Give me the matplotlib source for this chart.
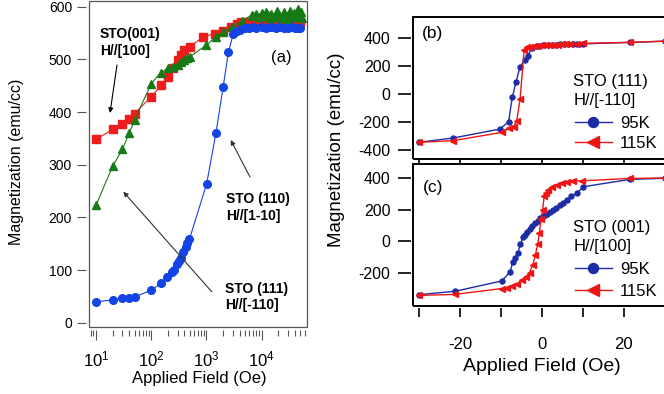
import matplotlib
matplotlib.use("Agg")
import matplotlib.pyplot as plt
from matplotlib.patches import Rectangle

plt.rcParams['font.family'] = ['Liberation Sans', 'DejaVu Sans']
plt.rcParams['axes.unicode_minus'] = False

# ---- panel (a): M vs field, log scale ----
blue_a_x = [10, 20, 30, 40, 50, 100, 150, 195, 235, 255, 290, 320, 340, 380, 420, 450, 490,
            1010, 1490, 2000, 2500, 3070, 3500, 4000, 5000, 6000, 7000, 8000, 10000, 12000,
            15000, 18000, 21000, 25000, 30000, 35000, 40000, 45000, 50000]
blue_a_y = [40, 43, 46, 47.5, 49, 61.5, 75, 86, 97, 100, 111, 117, 122, 135, 144, 151, 158,
            264, 361, 447, 514, 549, 553, 556, 559, 560, 561, 560, 561, 560,
            561, 560, 561, 560, 560, 561, 560, 559, 560]

red_a_x = [10, 20, 30, 40, 50, 100, 150, 200, 250, 300, 350, 400, 500, 880, 1430, 2000,
           2800, 3500, 4300, 5500, 7000, 9000, 12000, 15000, 20000, 25000, 30000, 40000, 50000]
red_a_y = [348, 367, 377, 387, 397, 429, 451, 466, 483, 499, 508, 518, 524, 543, 549, 554,
           562, 567, 570, 571, 572, 571, 572, 570, 571, 572, 570, 571, 570]

green_a_x = [10, 20, 30, 40, 50, 100, 150, 200, 250, 300, 350, 400, 450, 500, 1000, 1480,
             2000, 2870, 4340, 6590, 7000, 8000, 9000, 10000, 11000, 12000, 13000, 14000,
             15000, 17000, 19000, 21000, 23000, 25000, 27000, 30000, 33000, 36000, 39000,
             42000, 45000, 48000, 51000, 54000]
green_a_y = [223, 297, 329, 360, 385, 454, 475, 483, 486, 490, 495, 499, 502, 505, 527, 543,
             552, 562, 573, 584, 583, 586, 580, 588, 582, 590, 584, 578,
             587, 581, 591, 585, 579, 589, 583, 577, 592, 584, 588,
             580, 595, 583, 590, 578]

# ---- panel (b): STO (111) loops ----
b95_x = [-30, -21.6, -10.2, -8.1, -7.2, -6.3, -5.3, -4.1, -3.4, -2.4, -1, 0.4, 1.5, 2.5,
         3.5, 4.5, 5.5, 6.5, 7.5, 8.5, 10, 21.5, 30]
b95_y = [-345, -314, -250, -197, -23, 85, 197, 245, 276, 331, 345, 350, 352, 354,
         355, 356, 357, 358, 358, 359, 360, 371, 379]
b115_x = [-30, -21.6, -9.8, -8, -6.9, -6.1, -5.3, -4.3, -3.7, -3, -2, -1, 0, 1, 2, 3, 4,
          5, 6, 7, 8.5, 10.1, 21.5, 30]
b115_y = [-345, -333, -274, -245, -236, -190, -34, 317, 335, 340, 345, 348, 350, 352, 353,
          354, 355, 356, 357, 358, 359, 364, 371, 380]

# ---- panel (c): STO (001) loops ----
c95_x = [-30, -21.1, -9.8, -7.7, -7.1, -6.5, -5.9, -5.2, -4.6, -4.1, -3.5, -3.0, -2.3, -1.6,
         -1.0, -0.4, 0.2, 0.8, 1.2, 2.0, 2.8, 3.5, 4.5, 5.2, 6.1, 7.2, 8.5, 10.1, 21.5, 30]
c95_y = [-340, -318, -253, -195, -132, -105, -75, -20, 27, 40, 60, 75, 95, 113,
         130, 145, 158, 165, 172, 185, 197, 210, 229, 245, 261, 285, 304, 346, 393, 400]
c115_x = [-30, -21.1, -9.8, -8.5, -7.3, -6.1, -4.9, -3.8, -3.0, -2.2, -1.6, -1.0, -0.6,
          -0.2, 0.2, 0.6, 1.0, 1.6, 2.5, 3.7, 5, 6.1, 7.7, 9.8, 21.5, 30]
c115_y = [-345, -338, -301, -295, -287, -274, -248, -230, -200, -150, -90, -20, 50,
          140, 200, 290, 305, 325, 342, 357, 370, 378, 384, 384, 399, 402]

W, H = 664, 394
fig = plt.figure(figsize=(W / 100, H / 100), dpi=100)


def box(l, t, r, b):
    # pixel frame -> figure fraction
    return [l / W, 1 - b / H, (r - l) / W, (b - t) / H]


def frame(ax, lw, color):
    for s in ax.spines.values():
        s.set_visible(False)
    ax.add_patch(Rectangle((0, 0), 1, 1, transform=ax.transAxes, fill=False,
                           lw=lw, ec=color, clip_on=False, zorder=5))


# panel (a)
axa = fig.add_axes(box(89, 1, 306.7, 326.7))
axa.plot(green_a_x, green_a_y, '-^', color='#167a16', ms=6, lw=0.8, mec='#167a16')
axa.plot(red_a_x, red_a_y, '-s', color='#ee1c1c', ms=5.5, lw=0.8, zorder=1)
axa.plot(blue_a_x, blue_a_y, '-o', color='#1443e6', ms=5.5, lw=0.8)
axa.set_xscale('log')
axa.set_xlim(7.47, 65300)
axa.set_ylim(-7.6, 610.8)
axa.set_yticks(range(0, 601, 100))
frame(axa, 0.9, '#555555')
axa.spines['left'].set_position(('outward', 2.2))
axa.spines['bottom'].set_position(('outward', 2.2))
axa.tick_params(axis='y', length=6.5, width=0.8, color='#555555', labelsize=10, pad=3.5)
axa.tick_params(axis='x', which='major', length=7, width=0.8, color='#555555',
                labelsize=12, pad=7)
axa.tick_params(axis='x', which='minor', length=4, width=0.8, color='#555555')

bold = dict(fontsize=10, fontweight='bold', linespacing=1.25, transform=axa.transAxes,
            va='center', ha='left')
axa.text(0.0505, 0.8726, 'STO(001)\nH//[100]', **bold)
axa.text(0.629, 0.366, 'STO (110)\nH//[1-10]', **bold)
axa.text(0.625, 0.0912, 'STO (111)\nH//[-110]', **bold)
axa.text(0.884, 0.825, '(a)', fontsize=12, transform=axa.transAxes, ha='center', va='center')
arrow = dict(arrowstyle='-|>', lw=0.8, mutation_scale=7, shrinkA=0, shrinkB=0)
axa.annotate('', xy=(0.0965, 0.6561), xytext=(0.1286, 0.8035), xycoords='axes fraction',
             arrowprops=dict(color='black', **arrow))
axa.annotate('', xy=(0.651, 0.5732), xytext=(0.7395, 0.4596), xycoords='axes fraction',
             arrowprops=dict(color='#333333', **arrow))
axa.annotate('', xy=(0.1576, 0.4145), xytext=(0.5636, 0.1075), xycoords='axes fraction',
             arrowprops=dict(color='#333333', **arrow))
fig.text(0.0256, 0.589, 'Magnetization (emu/cc)', rotation=90, fontsize=11.5,
         ha='center', va='center')
fig.text(0.2997, 0.0406, 'Applied Field (Oe)', fontsize=12, ha='center', va='center')

# panels (b) and (c)
navy = '#1c2ca6'
red = '#f01414'
axb = fig.add_axes(box(412.7, 17.3, 670.9, 159))
axc = fig.add_axes(box(412.7, 164, 670.9, 306))
panels = [
    (axb, (b95_x, b95_y, b115_x, b115_y), (-464.5, 550.5), [-400, -200, 0, 200, 400],
     'STO (111)\nH//[-110]', '(b)', 91, 116, 0.3, 0.889),
    (axc, (c95_x, c95_y, c115_x, c115_y), (-412, 490.8), [-200, 0, 200, 400],
     'STO (001)\nH//[100]', '(c)', 237, 261.5, 0.42, 0.838),
]
for ax, (x95, y95, x115, y115), ylim, yt, title, tag, ty, ly, lsp, tagy in panels:
    ax.plot(x95, y95, '-o', color=navy, ms=3.6, lw=1.0, label='95K')
    ax.plot(x115, y115, '-<', color=red, ms=4.4, lw=1.0, label='115K')
    ax.set_xlim(-31.5, 31.5)
    ax.set_ylim(*ylim)
    ax.set_yticks(yt)
    ax.set_xticks(range(-30, 31, 10))
    frame(ax, 1.4, 'black')
    ax.spines['left'].set_position(('outward', 1.5))
    ax.tick_params(axis='y', length=9.5, width=1.2, labelsize=11.5, pad=5)
    fig.text(573.3 / W, 1 - ty / H, title, fontsize=12, linespacing=1.34,
             ha='left', va='center')
    ax.legend(loc='upper left', frameon=False, fontsize=12, borderpad=0, borderaxespad=0,
              handlelength=2.2, handletextpad=0.5, labelspacing=lsp, markerscale=2.0,
              bbox_to_anchor=(575 / W, 1 - ly / H), bbox_transform=fig.transFigure)
    ax.text(0.0786, tagy, tag, fontsize=12.5, transform=ax.transAxes,
            ha='center', va='center')

axb.tick_params(axis='x', length=8, width=1.2, labelbottom=False)
axc.spines['bottom'].set_position(('outward', 1.5))
axc.tick_params(axis='x', length=6.5, width=1.2, labelsize=12, pad=14)
axc.set_xticklabels(['', '-20', '', '0', '', '20', ''])

fig.text(0.5075, 0.619, 'Magnetization (emu/cc)', rotation=90, fontsize=13.5,
         ha='center', va='center')
fig.text(0.8158, 0.0693, 'Applied Field (Oe)', fontsize=14, ha='center', va='center')

fig.savefig('out.png', dpi=100)
